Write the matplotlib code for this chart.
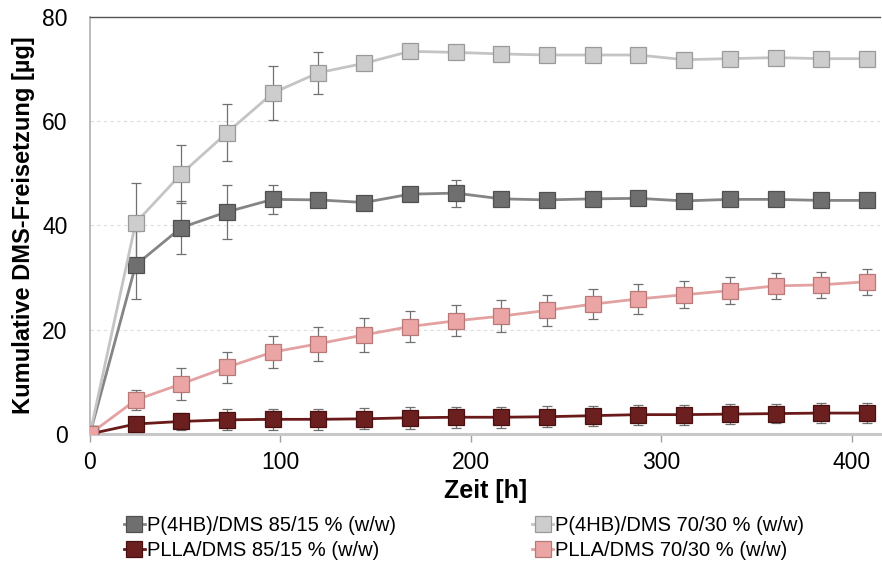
import matplotlib
matplotlib.use("Agg")
import matplotlib.pyplot as plt
import numpy as np

plt.rcParams['font.family'] = ['Liberation Sans', 'DejaVu Sans']

# Sampling times [h]
hours = [0, 24, 48, 72, 96, 120, 144, 168, 192, 216, 240, 264, 288, 312, 336, 360, 384, 408]

# Cumulative DMS release [µg] and standard deviations
p4hb_85 = [0, 32.4, 39.6, 42.6, 45.0, 44.9, 44.4, 46.0, 46.2, 45.1, 44.9, 45.1, 45.2, 44.7, 45.0, 45.0, 44.8, 44.8]
p4hb_85_err = [0, 6.5, 5.0, 5.2, 2.8, 1.0, 0.8, 0.8, 2.6, 0.6, 0.5, 0.5, 0.5, 0.5, 0.5, 0.5, 0.5, 0.5]

p4hb_70 = [0, 40.5, 49.9, 57.8, 65.4, 69.3, 71.1, 73.4, 73.2, 72.9, 72.7, 72.7, 72.7, 71.8, 72.0, 72.2, 72.0, 72.0]
p4hb_70_err = [0, 7.6, 5.6, 5.5, 5.2, 4.0, 1.0, 1.0, 0.6, 0.5, 0.5, 0.5, 0.5, 0.5, 0.5, 0.5, 0.5, 0.5]

plla_85 = [0, 1.9, 2.4, 2.7, 2.8, 2.8, 2.9, 3.1, 3.2, 3.2, 3.3, 3.5, 3.7, 3.7, 3.8, 3.9, 4.0, 4.0]
plla_85_err = [0, 1.2, 1.7, 2.0, 2.0, 2.0, 2.0, 2.1, 2.0, 2.0, 2.0, 1.9, 1.9, 1.9, 1.9, 1.9, 1.9, 1.9]

plla_70 = [0, 6.5, 9.6, 12.8, 15.7, 17.3, 19.0, 20.6, 21.7, 22.6, 23.7, 24.9, 25.9, 26.7, 27.5, 28.4, 28.6, 29.2]
plla_70_err = [0, 2.0, 3.0, 3.0, 3.0, 3.3, 3.2, 2.9, 3.0, 3.0, 2.9, 2.9, 2.8, 2.6, 2.6, 2.5, 2.5, 2.5]

labels = ["P(4HB)/DMS 85/15 % (w/w)", "P(4HB)/DMS 70/30 % (w/w)",
          "PLLA/DMS 85/15 % (w/w)", "PLLA/DMS 70/30 % (w/w)"]

# (values, errors, line colour, marker face, marker edge)
series = [
    (p4hb_85, p4hb_85_err, "#858585", "#6f6f6f", "#505050"),
    (p4hb_70, p4hb_70_err, "#c4c4c4", "#cdcdcd", "#9a9a9a"),
    (plla_85, plla_85_err, "#6a1a1a", "#6b1f1f", "#4a1010"),
    (plla_70, plla_70_err, "#e3a1a1", "#eba5a5", "#b87878"),
]

fig = plt.figure(figsize=(8.82, 5.65), dpi=100)
ax = fig.add_axes([0.102, 0.232, 0.896, 0.738])

handles = []
for (vals, errs, lc, fc, ec), lab in zip(series, labels):
    ax.errorbar(hours, vals, yerr=errs, fmt='none', ecolor='#707070',
                elinewidth=0.9, capsize=3.5, capthick=0.9, zorder=2)
    h, = ax.plot(hours, vals, color=lc, lw=2.0, marker='s', markersize=11.5,
                 markerfacecolor=fc, markeredgecolor=ec, markeredgewidth=0.9,
                 zorder=3, label=lab)
    handles.append(h)

ax.set_xlim(0, 415)
ax.set_ylim(0, 80)
ax.set_xticks([0, 100, 200, 300, 400])
ax.set_yticks([0, 20, 40, 60, 80])

ax.yaxis.grid(True, color='#dddddd', linestyle=(0, (3, 3)), linewidth=0.8)
ax.set_axisbelow(True)

ax.spines['right'].set_visible(False)
ax.spines['top'].set_color('#555555')
ax.spines['top'].set_linewidth(1.0)
ax.spines['left'].set_color('#b0b0b0')
ax.spines['left'].set_linewidth(1.2)
ax.spines['bottom'].set_color('#c8c8c8')
ax.spines['bottom'].set_linewidth(2.2)

ax.tick_params(axis='x', direction='out', length=6, width=1, color='#a0a0a0',
               labelsize=16.5, pad=6)
ax.tick_params(axis='y', length=0, labelsize=16.5, pad=16)

ax.set_xlabel("Zeit [h]", fontsize=18, fontweight='bold', labelpad=4)
ax.set_ylabel("Kumulative DMS-Freisetzung [µg]", fontsize=17, fontweight='bold', labelpad=5)

# row-wise legend: P(4HB) on the first row, PLLA on the second
order = [0, 2, 1, 3]
fig.legend([handles[i] for i in order], [labels[i] for i in order],
           loc='upper left', bbox_to_anchor=(0.141, 0.087),
           ncol=2, frameon=False, fontsize=14.5, handlelength=1.0,
           handletextpad=0.1, columnspacing=6.8, labelspacing=0.3,
           borderpad=0.0, borderaxespad=0.0)

fig.savefig("out.png", dpi=100)
